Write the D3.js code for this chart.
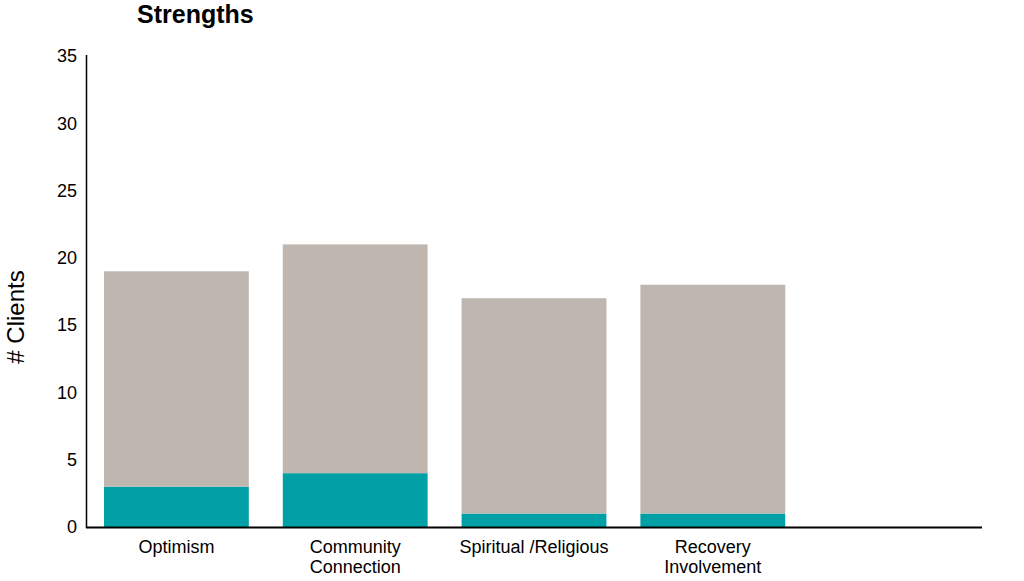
<!DOCTYPE html>
<html><head><meta charset="utf-8">
<script src="https://cdn.jsdelivr.net/npm/d3@7"></script>
<style>body{margin:0;background:#fff}svg{display:block;font-family:"Liberation Sans",Arial,sans-serif}</style>
</head><body><svg id="c" width="1024" height="581"></svg>
<script>
const categories = ["Optimism", "Community Connection", "Spiritual /Religious", "Recovery Involvement", ""];
const categoryLines = [["Optimism"], ["Community", "Connection"], ["Spiritual /Religious"], ["Recovery", "Involvement"], []];
const tealValues = [3, 4, 1, 1, 0];
const grayValues = [16, 17, 16, 17, 0];
const yTicks = [0, 5, 10, 15, 20, 25, 30, 35];

const svg = d3.select("#c");
const x = d3.scaleBand().domain(categories.map((d,i)=>i)).range([87, 981]).paddingInner(0.19).paddingOuter(0.095);
const y = d3.scaleLinear().domain([0, 35]).range([527, 56]);

const stacked = categories.map((c,i)=>({i, teal: tealValues[i], gray: grayValues[i]}));
svg.append("g").selectAll("rect.t").data(stacked).join("rect")
  .attr("x", d=>x(d.i)).attr("width", x.bandwidth())
  .attr("y", d=>y(d.teal)).attr("height", d=>y(0)-y(d.teal)).attr("fill", "#00A0A6");
svg.append("g").selectAll("rect.g").data(stacked).join("rect")
  .attr("x", d=>x(d.i)).attr("width", x.bandwidth())
  .attr("y", d=>y(d.teal+d.gray)).attr("height", d=>y(d.teal)-y(d.teal+d.gray)).attr("fill", "#BEB6AF");

// y axis
const ya = svg.append("g").attr("transform","translate(86.5,0)")
  .call(d3.axisLeft(y).tickValues(yTicks).tickSize(0).tickPadding(9.5));
ya.select(".domain").attr("stroke","#000").attr("stroke-width",1.5).attr("d","M0,55V528");
ya.selectAll("text").attr("font-size",18).attr("fill","#000").attr("font-family","Liberation Sans, Arial, sans-serif");

// x axis line
svg.append("line").attr("x1",86).attr("x2",982).attr("y1",527.5).attr("y2",527.5).attr("stroke","#000").attr("stroke-width",2);

// category labels
const lab = svg.append("g").selectAll("text").data(categoryLines).join("text")
  .attr("x",(d,i)=>x(i)+x.bandwidth()/2).attr("y",553).attr("text-anchor","middle")
  .attr("font-size",18).attr("fill","#000");
lab.selectAll("tspan").data(d=>d).join("tspan")
  .attr("x",function(){return this.parentNode.getAttribute("x");})
  .attr("dy",(d,j)=>j===0?0:20).text(d=>d);

// title
svg.append("text").attr("x",137).attr("y",23).attr("font-size",25).attr("font-weight","bold").text("Strengths");
// y label
svg.append("text").attr("transform","translate(24,317) rotate(-90)").attr("text-anchor","middle").attr("font-size",24).text("# Clients");
</script></body></html>
